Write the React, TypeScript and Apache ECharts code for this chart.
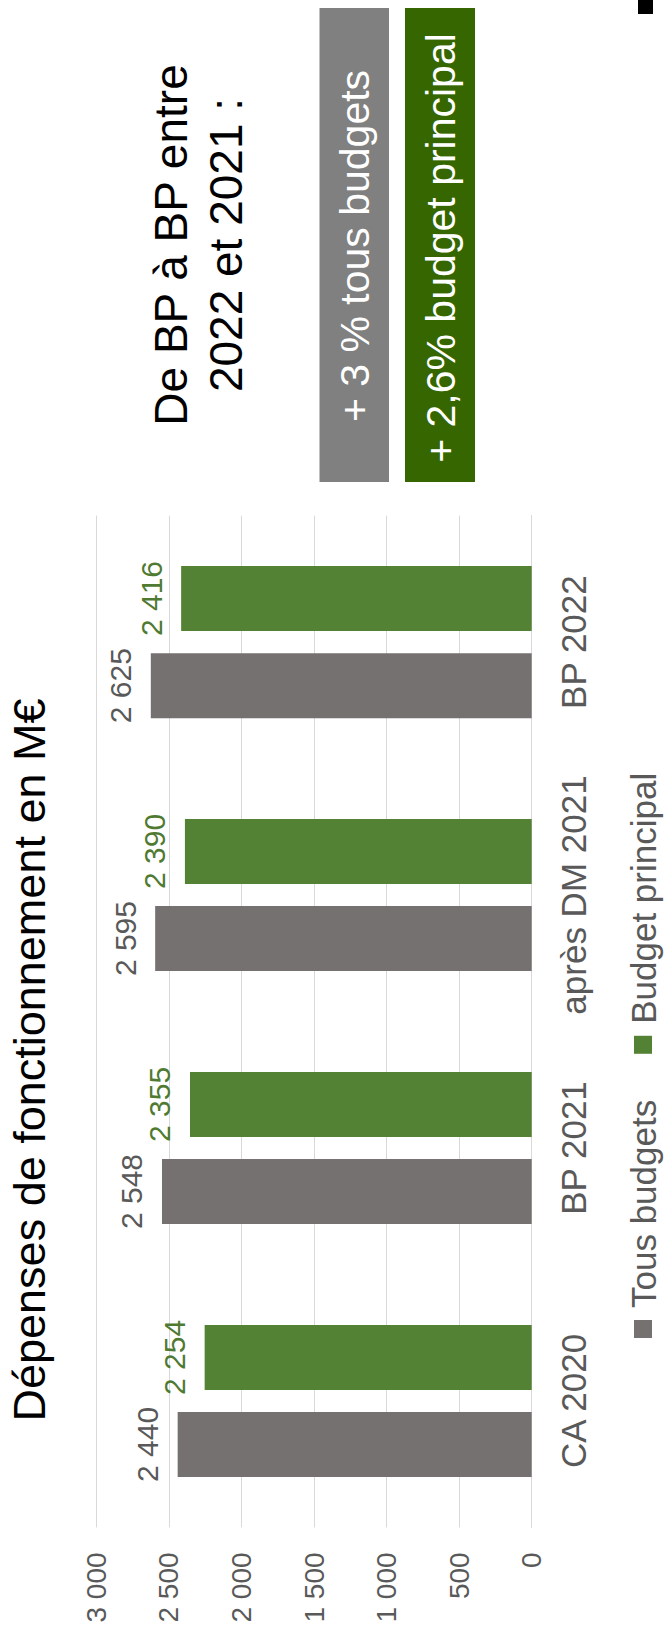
import React, { useEffect, useRef } from 'react';
import * as echarts from 'echarts';

// ---- data ----
const categories = ['CA 2020', 'BP 2021', 'après DM 2021', 'BP 2022'];
const tousBudgets = [2440, 2548, 2595, 2625];
const budgetPrincipal = [2254, 2355, 2390, 2416];
const seriesNames = ['Tous budgets', 'Budget principal'];
const valueMin = 0;
const valueMax = 3000;
const valueStep = 500;
const titleText = 'Dépenses de fonctionnement en M€';
const noteLines = ['De BP à BP entre', '2022 et 2021 :'];
const badgeTexts = ['+ 3 % tous budgets', '+ 2,6% budget principal'];

const fmt = (v: number) => String(v).replace(/\B(?=(\d{3})+(?!\d))/g, ' ');

// landscape frame, later rotated -90deg
const W = 1626;
const H = 664;
const FONT = '"Liberation Sans", Arial, Helvetica, sans-serif';

const GRAY = '#767171';
const GREEN = '#548235';

export default function App() {
  const ref = useRef<HTMLDivElement | null>(null);

  useEffect(() => {
    if (!ref.current) return;
    const chart = echarts.init(ref.current, undefined, { renderer: 'svg' });
    const option: any = {
      animation: false,
      backgroundColor: '#ffffff',
      textStyle: { fontFamily: FONT },
      grid: { left: 98.6, right: W - 1110.4, top: 96.4, bottom: H - 531.7, containLabel: false },
      legend: {
        data: seriesNames,
        left: 283,
        top: 620,
        padding: 5,
        itemWidth: 18,
        itemHeight: 18,
        itemGap: 46,
        icon: 'rect',
        textStyle: { fontSize: 35, lineHeight: 36, color: '#595959', fontFamily: FONT, padding: [0, 0, 0, 7] },
      },
      xAxis: {
        type: 'category',
        data: categories,
        axisLine: { show: true, lineStyle: { color: '#d9d9d9', width: 1 } },
        axisTick: { show: false },
        axisLabel: { fontSize: 35, color: '#595959', margin: 24, interval: 0, fontFamily: FONT },
        splitLine: { show: false },
      },
      yAxis: {
        type: 'value',
        min: valueMin,
        max: valueMax,
        interval: valueStep,
        axisLine: { show: false },
        axisTick: { show: false },
        axisLabel: { fontSize: 28, color: '#595959', margin: 25, formatter: (v: number) => fmt(v), fontFamily: FONT },
        splitLine: { show: true, lineStyle: { color: '#d9d9d9', width: 1 } },
      },
      series: [
        {
          name: seriesNames[0],
          type: 'bar',
          data: tousBudgets,
          barWidth: 65,
          barGap: '34%',
          itemStyle: { color: GRAY },
          label: {
            show: true,
            position: 'top',
            distance: 15,
            fontSize: 30,
            color: '#595959',
            fontFamily: FONT,
            formatter: (p: any) => fmt(p.value),
          },
        },
        {
          name: seriesNames[1],
          type: 'bar',
          data: budgetPrincipal,
          barWidth: 65,
          barGap: '34%',
          itemStyle: { color: GREEN },
          label: {
            show: true,
            position: 'top',
            distance: 15,
            fontSize: 30,
            color: '#4f7a31',
            fontFamily: FONT,
            formatter: (p: any) => fmt(p.value),
          },
        },
      ],
      graphic: [
        {
          type: 'text',
          x: 566,
          y: 29,
          style: { text: titleText, fontSize: 45, fontFamily: FONT, fill: '#000000', align: 'center', verticalAlign: 'middle' },
        },
        {
          type: 'text',
          x: 1381,
          y: 171,
          style: { text: noteLines[0], fontSize: 46, fontFamily: FONT, fill: '#000000', align: 'center', verticalAlign: 'middle' },
        },
        {
          type: 'text',
          x: 1381,
          y: 226,
          style: { text: noteLines[1], fontSize: 46, fontFamily: FONT, fill: '#000000', align: 'center', verticalAlign: 'middle' },
        },
        {
          type: 'rect',
          shape: { x: 1144, y: 319.5, width: 474, height: 69.5 },
          style: { fill: '#808080' },
        },
        {
          type: 'rect',
          shape: { x: 1144, y: 405, width: 474, height: 70 },
          style: { fill: '#356600' },
        },
        {
          type: 'text',
          x: 1380,
          y: 355,
          style: { text: badgeTexts[0], fontSize: 41, fontFamily: FONT, fill: '#ffffff', align: 'center', verticalAlign: 'middle' },
        },
        {
          type: 'text',
          x: 1378,
          y: 441,
          style: { text: badgeTexts[1], fontSize: 41, fontFamily: FONT, fill: '#ffffff', align: 'center', verticalAlign: 'middle' },
        },
        {
          type: 'rect',
          shape: { x: 1612, y: 638, width: 14, height: 15 },
          style: { fill: '#000000' },
        },
      ],
    };
    chart.setOption(option);
    return () => {
      chart.dispose();
    };
  }, []);

  return (
    <div
      style={{
        position: 'fixed',
        left: 0,
        top: 0,
        width: 664,
        height: 1626,
        overflow: 'hidden',
        background: '#ffffff',
      }}
    >
      <div
        ref={ref}
        style={{
          position: 'absolute',
          left: 0,
          top: 0,
          width: W,
          height: H,
          transformOrigin: '0 0',
          transform: `translate(0px, ${W}px) rotate(-90deg)`,
        }}
      />
    </div>
  );
}
